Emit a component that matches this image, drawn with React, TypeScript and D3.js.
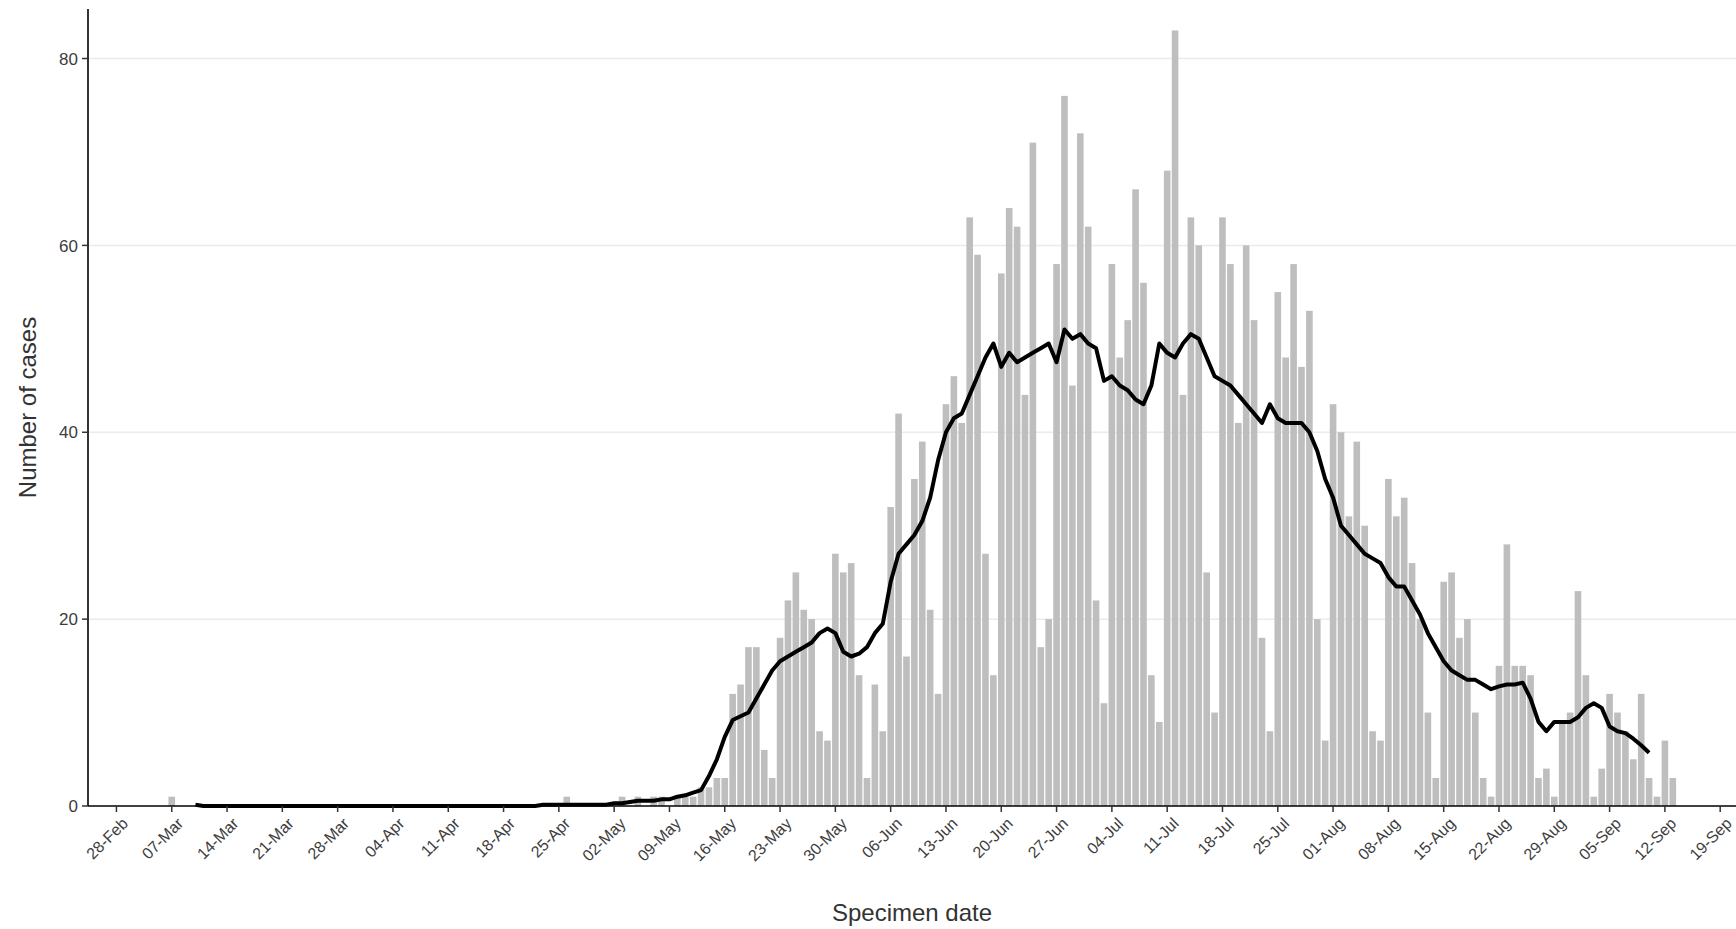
import * as d3 from 'd3';

// Daily cases by specimen date (2022)
const sporadicDates = ['2022-03-07', '2022-04-26'];
const sporadicCases = [1, 1];

// continuous daily series from 03-May onwards
const seriesStart = '2022-05-03';
const dailyCases = [
  1, 0, 1, 0, 1, 1, 0, 1, 1, 1, 2, 2, 3,
  3, 12, 13, 17, 17, 6, 3,
  18, 22, 25, 21, 20, 8, 7,
  27, 25, 26, 14, 3, 13, 8,
  32, 42, 16, 35, 39, 21, 12,
  43, 46, 41, 63, 59, 27, 14,
  57, 64, 62, 44, 71, 17, 20,
  58, 76, 45, 72, 62, 22, 11,
  58, 48, 52, 66, 56, 14, 9,
  68, 83, 44, 63, 60, 25, 10,
  63, 58, 41, 60, 52, 18, 8,
  55, 48, 58, 47, 53, 20, 7,
  43, 40, 31, 39, 30, 8, 7,
  35, 31, 33, 26, 20, 10, 3,
  24, 25, 18, 20, 10, 3, 1,
  15, 28, 15, 15, 14, 3, 4,
  1, 9, 10, 23, 14, 1, 4,
  12, 10, 8, 5, 12, 3, 1,
  7, 3,
];

// 7-day average line, daily from 10-Mar
const avgStart = '2022-03-10';
const avg7 = [
  0.14, 0, 0, 0, 0, 0, 0, 0, 0, 0,
  0, 0, 0, 0, 0, 0, 0, 0, 0, 0,
  0, 0, 0, 0, 0, 0, 0, 0, 0, 0,
  0, 0, 0, 0, 0, 0, 0, 0, 0, 0,
  0, 0, 0, 0,
  0.14, 0.14, 0.14, 0.14, 0.14, 0.14, 0.14,
  0.14, 0.14, 0.29, 0.29, 0.43, 0.57, 0.57, 0.57, 0.71, 0.71, 1.0, 1.14, 1.43,
  1.7, 3.2, 5.0, 7.4, 9.2, 9.6, 10.0, 11.5, 13.0, 14.5,
  15.5, 16.0, 16.5, 17.0, 17.5, 18.5, 19.0, 18.5, 16.5, 16.0,
  16.3, 17.0, 18.5, 19.5, 24, 27, 28, 29, 30.5, 33,
  37, 40, 41.5, 42, 44, 46, 48, 49.5, 47, 48.5,
  47.5, 48, 48.5, 49, 49.5, 47.5, 51, 50, 50.5, 49.5,
  49, 45.5, 46, 45, 44.5, 43.5, 43, 45, 49.5, 48.5,
  48, 49.5, 50.5, 50, 48, 46, 45.5, 45, 44, 43,
  42, 41, 43, 41.5, 41, 41, 41, 40, 38, 35,
  33, 30, 29, 28, 27, 26.5, 26, 24.5, 23.5, 23.5,
  22, 20.5, 18.5, 17, 15.5, 14.5, 14, 13.5, 13.5, 13,
  12.5, 12.8, 13, 13, 13.2, 11.5, 9, 8, 9, 9,
  9, 9.5, 10.5, 11, 10.5, 8.5, 8, 7.8, 7.2, 6.5,
  5.7,
];

const yTicks = [0, 20, 40, 60, 80];
const firstTick = '2022-02-28';
const tickCount = 30; // weekly ticks, 28-Feb .. 19-Sep

const W = 1736;
const H = 929;
const DAY = 864e5;

export default function App() {
  const parse = (s: string) => new Date(s + 'T00:00:00Z');
  const day0 = parse(firstTick);

  const x = d3
    .scaleUtc()
    .domain([new Date(+day0 - 3.6 * DAY), new Date(+day0 + 205 * DAY)])
    .range([88, W]);
  const y = d3.scaleLinear().domain([0, 85.3]).range([806, 9]);

  const bars = [
    ...sporadicDates.map((s, i) => ({ date: parse(s), n: sporadicCases[i] })),
    ...dailyCases.map((n, i) => ({ date: d3.utcDay.offset(parse(seriesStart), i), n })),
  ].filter((d) => d.n > 0);

  const linePts = avg7.map((v, i) => ({ date: d3.utcDay.offset(parse(avgStart), i), v }));
  const line = d3
    .line<{ date: Date; v: number }>()
    .x((d) => x(d.date))
    .y((d) => y(d.v));

  const ticks = d3.range(tickCount).map((k) => d3.utcDay.offset(day0, 7 * k));
  const fmt = d3.utcFormat('%d-%b');
  const bw = 6.6;
  const textCol = '#3d3d3d';
  const font = '"Liberation Sans", Arial, sans-serif';

  return (
    <svg
      width={W}
      height={H}
      style={{ position: 'absolute', left: 0, top: 0, background: '#fff' }}
      fontFamily={font}
    >
      {/* grid */}
      {yTicks
        .filter((t) => t > 0)
        .map((t) => (
          <line key={t} x1={88} x2={W} y1={y(t)} y2={y(t)} stroke="#ebebeb" strokeWidth={1.5} />
        ))}

      {/* bars */}
      {bars.map((d, i) => (
        <rect
          key={i}
          x={x(d.date) - bw / 2}
          y={y(d.n)}
          width={bw}
          height={y(0) - y(d.n)}
          fill="#bebebe"
        />
      ))}

      {/* moving average */}
      <path d={line(linePts) || ''} fill="none" stroke="#000" strokeWidth={4} strokeLinejoin="round" />

      {/* axes */}
      <line x1={88} x2={88} y1={9} y2={806} stroke="#000" strokeWidth={1.6} />
      <line x1={88} x2={W} y1={806} y2={806} stroke="#000" strokeWidth={1.6} />

      {yTicks.map((t) => (
        <g key={t}>
          <line x1={82} x2={88} y1={y(t)} y2={y(t)} stroke="#333" strokeWidth={1.5} />
          <text x={78} y={y(t)} dy="0.36em" textAnchor="end" fontSize={17} fill={textCol}>
            {t}
          </text>
        </g>
      ))}

      {ticks.map((t, i) => {
        const tx = x(t);
        return (
          <g key={i}>
            <line x1={tx} x2={tx} y1={806} y2={812} stroke="#333" strokeWidth={1.5} />
            <text
              transform={`translate(${tx + 4},${816}) rotate(-45)`}
              dy="0.75em"
              textAnchor="end"
              fontSize={16}
              fill={textCol}
            >
              {fmt(t)}
            </text>
          </g>
        );
      })}

      <text x={(88 + W) / 2} y={921} textAnchor="middle" fontSize={24} fill="#333">
        Specimen date
      </text>
      <text
        transform={`translate(36,${(9 + 806) / 2}) rotate(-90)`}
        textAnchor="middle"
        fontSize={24}
        fill="#333"
      >
        Number of cases
      </text>
    </svg>
  );
}
